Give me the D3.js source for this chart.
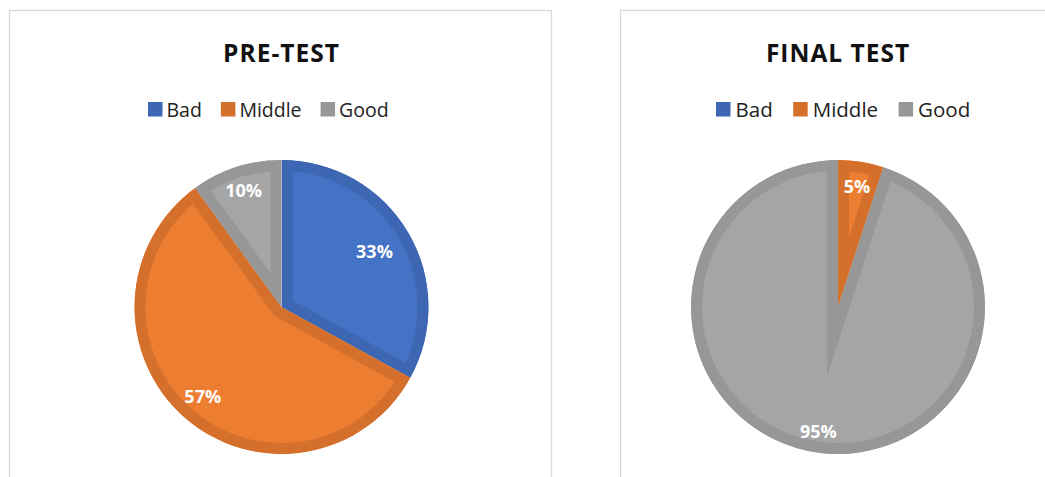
<!DOCTYPE html>
<html>
<head>
<meta charset="utf-8">
<script src="https://cdn.jsdelivr.net/npm/d3@7/dist/d3.min.js"></script>
<style>
  html, body { margin: 0; padding: 0; background: #ffffff; }
  svg { display: block; }
  text { font-family: "Open Sans", "Noto Sans", sans-serif; }
</style>
</head>
<body>
<svg id="chart" width="1045" height="477"></svg>
<script>
// Score categories shared by both tests
const categories = ["Bad", "Middle", "Good"];

// Share of students (%) in each category
const preTestValues = [33, 57, 10];
const finalTestValues = [0, 5, 95];

// Chart titles
const titles = ["PRE-TEST", "FINAL TEST"];

// Slice fill colours and the darker inner-border shades
const fillColors = ["#4472C4", "#ED7D31", "#A5A5A5"];
const edgeColors = ["#3D67B3", "#D5702C", "#979797"];

// Panel layout for each pie
const panels = [
  { values: preTestValues, title: titles[0], box: [9.5, 10.5, 542, 480],
    cx: 281.5, cy: 307, r: 147, legendX: 148, legendFont: 19.5, legendGap: 4, legendSpacing: 19,
    labelRadius: [0.735, 0.81, 0.835] },
  { values: finalTestValues, title: titles[1], box: [620.5, 10.5, 440, 480],
    cx: 838, cy: 307, r: 147, legendX: 716, legendFont: 20.5, legendGap: 5, legendSpacing: 20.5,
    labelRadius: [0.8, 0.83, 0.857] }
];

const svg = d3.select("#chart");
const defs = svg.append("defs");
const borderWidth = 11;

const pie = d3.pie().sort(null).value(d => d);

panels.forEach((p, pi) => {
  const g = svg.append("g");

  // panel frame
  g.append("rect")
    .attr("x", p.box[0]).attr("y", p.box[1])
    .attr("width", p.box[2]).attr("height", p.box[3])
    .attr("fill", "#ffffff")
    .attr("stroke", "#d9d9d9")
    .attr("stroke-width", 1.3);

  // title
  g.append("text")
    .attr("x", p.cx).attr("y", 62)
    .attr("text-anchor", "middle")
    .attr("font-size", 24.5)
    .attr("font-weight", 700)
    .attr("letter-spacing", 1)
    .attr("fill", "#111111")
    .text(p.title);

  // legend
  let lx = p.legendX;
  categories.forEach((c, i) => {
    g.append("rect")
      .attr("x", lx).attr("y", 102)
      .attr("width", 14.5).attr("height", 14.5)
      .attr("fill", edgeColors[i]);
    const t = g.append("text")
      .attr("x", lx + 14.5 + p.legendGap).attr("y", 116.5)
      .attr("font-size", p.legendFont)
      .attr("fill", "#222222")
      .text(c);
    lx += 14.5 + p.legendGap + t.node().getComputedTextLength() + p.legendSpacing;
  });

  // pie slices with an inner border (stroke clipped to each slice)
  const arc = d3.arc().innerRadius(0).outerRadius(p.r);
  const arcs = pie(p.values);
  const pg = g.append("g").attr("transform", `translate(${p.cx},${p.cy})`);

  arcs.forEach((a, i) => {
    if (a.value <= 0) return;
    const id = `clip-${pi}-${i}`;
    // clip path lives in the slice's own (translated) user space
    defs.append("clipPath").attr("id", id)
      .append("path")
      .attr("d", arc(a));
    pg.append("path")
      .attr("d", arc(a))
      .attr("clip-path", `url(#${id})`)
      .attr("fill", fillColors[i])
      .attr("stroke", edgeColors[i])
      .attr("stroke-width", borderWidth * 2)
      .attr("stroke-linejoin", "miter")
      .attr("stroke-miterlimit", 12);
  });

  // percentage labels
  arcs.forEach((a, i) => {
    if (a.value <= 0) return;
    const mid = (a.startAngle + a.endAngle) / 2;
    const rr = p.r * p.labelRadius[i];
    pg.append("text")
      .attr("x", Math.sin(mid) * rr)
      .attr("y", -Math.cos(mid) * rr)
      .attr("dy", "0.36em")
      .attr("text-anchor", "middle")
      .attr("font-size", 18)
      .attr("font-weight", 700)
      .attr("fill", "#ffffff")
      .text(a.value + "%");
  });
});
</script>
</body>
</html>
